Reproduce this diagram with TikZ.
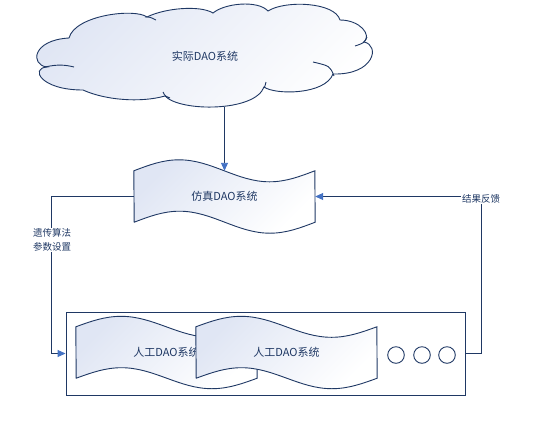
\documentclass[tikz,border=0pt]{standalone}
\usepackage{fontspec}
\setmainfont{Noto Sans CJK SC}
\usetikzlibrary{arrows.meta}
\definecolor{navy}{RGB}{31,56,100}
\definecolor{arrowblue}{RGB}{68,114,196}
\definecolor{shadeblue}{RGB}{224,230,244}
\tikzset{
  line/.style={draw=navy, line width=0.9pt},
  arr/.style={line, -{Triangle[length=8pt,width=7pt,color=arrowblue]}},
  txt/.style={text=navy, font=\fontsize{11}{13}\selectfont, inner sep=0pt},
  lbl/.style={text=navy, font=\fontsize{9.5}{14}\selectfont, fill=white, inner sep=1pt, align=center},
  tapebox/.style={minimum width=181pt, minimum height=51pt, inner sep=0pt},
  shadefill/.style={top color=shadeblue, bottom color=white, shading angle=45},
  dot/.style={circle, draw=navy, line width=0.9pt, fill=white, minimum size=16.6pt, inner sep=0pt}
}
\newcommand\tapepath[2]{%
  \path[line, shadefill]
   (#1.north west) sin ++(45.25,-#2) cos ++(45.25,#2) sin ++(45.25,#2) cos ++(45.25,-#2)
   -- (#1.south east) sin ++(-45.25,#2) cos ++(-45.25,-#2) sin ++(-45.25,-#2) cos ++(-45.25,#2) -- cycle;}
\begin{document}
\begin{tikzpicture}[x=1pt,y=-1pt]
\useasboundingbox (0,0) rectangle (543,424);
\fill[white] (0,0) rectangle (543,424);

% cloud
\path[line, shadefill] (47,67) .. controls (30,65) and (32,40) .. (69,38)
 .. controls (75,15) and (135,8) .. (147,17)
 .. controls (165,8) and (200,5) .. (213,13)
 .. controls (225,3) and (258,0) .. (268,11)
 .. controls (285,0) and (335,2) .. (340,20)
 .. controls (360,20) and (372,35) .. (364,42)
 .. controls (380,45) and (375,75) .. (333,74)
 .. controls (325,95) and (275,95) .. (264,87)
 .. controls (255,112) and (180,112) .. (165,96)
 .. controls (140,103) and (105,100) .. (83,90)
 .. controls (40,90) and (30,68) .. (47,67) -- cycle;
\draw[line] (45,67) .. controls (58,64) and (66,65) .. (74,67);
\draw[line] (145,17) .. controls (150,17) .. (156,20);
\draw[line] (367,37) .. controls (364,43) .. (355,46);
\draw[line] (334,76) .. controls (330,66) .. (313,62);
\draw[line] (264,88) .. controls (265,86) .. (266,82);
\draw[line] (170,98) .. controls (165,96) .. (163,92);
\node[txt] (real) at (205,56) {实际DAO系统};
\coordinate (cloudb) at (224.5,107);

% simulation tape
\node[tapebox] (sim) at (224.5,196.5) {};
\tapepath{sim}{11}
\node[txt] (simtxt) at (sim.center) {仿真DAO系统};

% outer box
\node[draw=navy, line width=0.9pt, fill=white, minimum width=399pt, minimum height=83pt, inner sep=0pt] (box) at (265.5,353.5) {};

% artificial tapes
\node[tapebox] (ai1) at (166.5,352.5) {};
\tapepath{ai1}{10.5}
\node[txt] (ai1txt) at (ai1.center) {人工DAO系统};
\node[tapebox] (ai2) at (286.5,352.5) {};
\tapepath{ai2}{10.5}
\node[txt] (ai2txt) at (ai2.center) {人工DAO系统};

% dots
\node[dot] (c1) at (396,355) {};
\node[dot] (c2) at (422,355) {};
\node[dot] (c3) at (447,355) {};

% connectors
\draw[arr] (cloudb) -- (sim.north);
\draw[arr] (sim.west) -- ++(-82.5,0) |- (box.west);
\draw[arr] (box.east) -- ++(16,0) |- (sim.east);
\node[lbl] (ga) at (52,240) {遗传算法\\参数设置};
\node[lbl] (fb) at (481,199) {结果反馈};
\end{tikzpicture}
\end{document}
